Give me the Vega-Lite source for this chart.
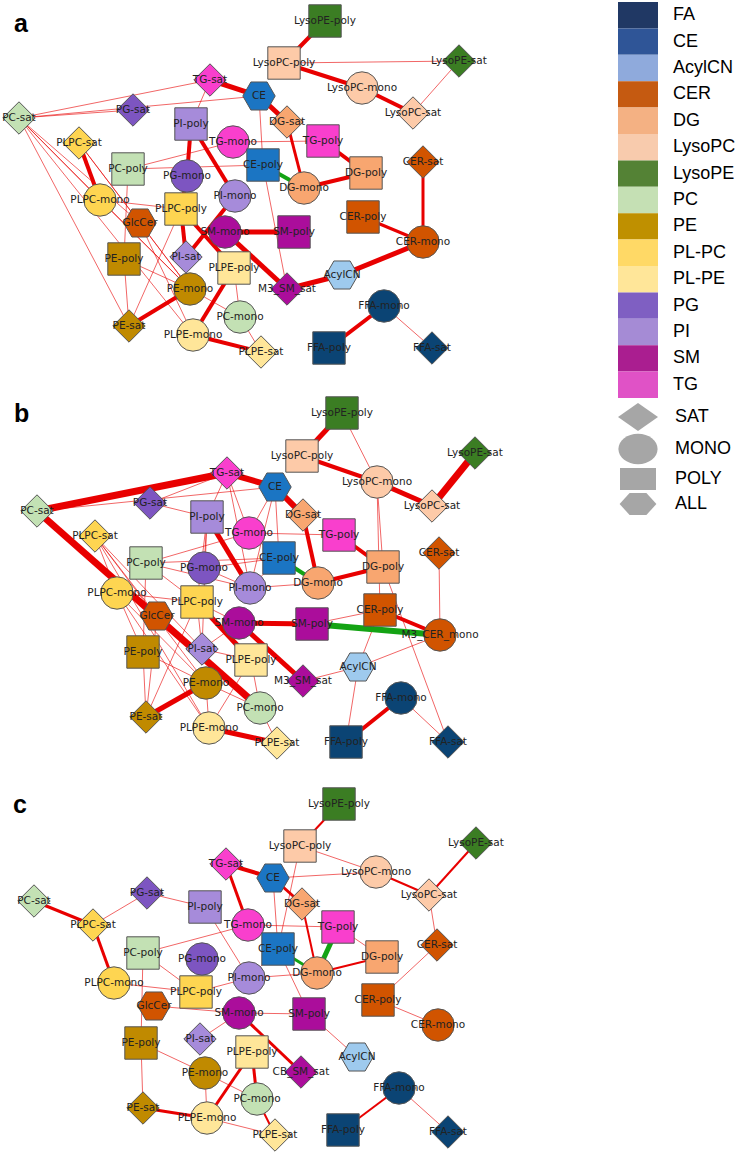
{
"$schema": "https://vega.github.io/schema/vega-lite/v6.json",
"width": 749, "height": 1154, "padding": 0, "autosize": {"type": "none"},
"background": "white",
"config": {"view": {"stroke": null}},
"datasets": {
"nodes": [
{"id":"a|TG-sat","label":"TG-sat","cls":"TG","type":"SAT","x":210,"y":80},
{"id":"a|PG-sat","label":"PG-sat","cls":"PG","type":"SAT","x":133,"y":110},
{"id":"a|PC-sat","label":"PC-sat","cls":"PC","type":"SAT","x":19,"y":118},
{"id":"a|PI-poly","label":"PI-poly","cls":"PI","type":"POLY","x":191,"y":124},
{"id":"a|TG-mono","label":"TG-mono","cls":"TG","type":"MONO","x":233,"y":142},
{"id":"a|PLPC-sat","label":"PLPC-sat","cls":"PL-PC","type":"SAT","x":79,"y":143},
{"id":"a|PC-poly","label":"PC-poly","cls":"PC","type":"POLY","x":128,"y":169},
{"id":"a|PG-mono","label":"PG-mono","cls":"PG","type":"MONO","x":187,"y":176},
{"id":"a|CE","label":"CE","cls":"CE","type":"ALL","x":259,"y":96},
{"id":"a|LysoPE-poly","label":"LysoPE-poly","cls":"LysoPE","type":"POLY","x":325,"y":21},
{"id":"a|LysoPC-poly","label":"LysoPC-poly","cls":"LysoPC","type":"POLY","x":284,"y":63},
{"id":"a|LysoPE-sat","label":"LysoPE-sat","cls":"LysoPE","type":"SAT","x":459,"y":61},
{"id":"a|LysoPC-mono","label":"LysoPC-mono","cls":"LysoPC","type":"MONO","x":362,"y":88},
{"id":"a|LysoPC-sat","label":"LysoPC-sat","cls":"LysoPC","type":"SAT","x":413,"y":113},
{"id":"a|DG-sat","label":"DG-sat","cls":"DG","type":"SAT","x":287,"y":122},
{"id":"a|TG-poly","label":"TG-poly","cls":"TG","type":"POLY","x":323,"y":141},
{"id":"a|CE-poly","label":"CE-poly","cls":"CE","type":"POLY","x":263,"y":165},
{"id":"a|DG-poly","label":"DG-poly","cls":"DG","type":"POLY","x":366,"y":173},
{"id":"a|CER-sat","label":"CER-sat","cls":"CER","type":"SAT","x":423,"y":162},
{"id":"a|DG-mono","label":"DG-mono","cls":"DG","type":"MONO","x":304,"y":188},
{"id":"a|PLPC-mono","label":"PLPC-mono","cls":"PL-PC","type":"MONO","x":100,"y":200},
{"id":"a|PI-mono","label":"PI-mono","cls":"PI","type":"MONO","x":235,"y":196},
{"id":"a|PLPC-poly","label":"PLPC-poly","cls":"PL-PC","type":"POLY","x":181,"y":209},
{"id":"a|GlcCer","label":"GlcCer","cls":"CER","type":"ALL","x":140,"y":223},
{"id":"a|SM-mono","label":"SM-mono","cls":"SM","type":"MONO","x":225,"y":232},
{"id":"a|PE-poly","label":"PE-poly","cls":"PE","type":"POLY","x":124,"y":259},
{"id":"a|PI-sat","label":"PI-sat","cls":"PI","type":"SAT","x":186,"y":257},
{"id":"a|PLPE-poly","label":"PLPE-poly","cls":"PL-PE","type":"POLY","x":234,"y":268},
{"id":"a|PE-mono","label":"PE-mono","cls":"PE","type":"MONO","x":190,"y":289},
{"id":"a|PE-sat","label":"PE-sat","cls":"PE","type":"SAT","x":129,"y":326},
{"id":"a|PLPE-mono","label":"PLPE-mono","cls":"PL-PE","type":"MONO","x":193,"y":335},
{"id":"a|PC-mono","label":"PC-mono","cls":"PC","type":"MONO","x":240,"y":317},
{"id":"a|PLPE-sat","label":"PLPE-sat","cls":"PL-PE","type":"SAT","x":261,"y":352},
{"id":"a|CER-poly","label":"CER-poly","cls":"CER","type":"POLY","x":363,"y":217},
{"id":"a|SM-poly","label":"SM-poly","cls":"SM","type":"POLY","x":294,"y":232},
{"id":"a|CER-mono","label":"CER-mono","cls":"CER","type":"MONO","x":423,"y":242},
{"id":"a|AcylCN","label":"AcylCN","cls":"AcylCN","type":"ALL","x":342,"y":275},
{"id":"a|M3_SM_sat","label":"M3_SM_sat","cls":"SM","type":"SAT","x":287,"y":289},
{"id":"a|FFA-mono","label":"FFA-mono","cls":"FA","type":"MONO","x":384,"y":306},
{"id":"a|FFA-poly","label":"FFA-poly","cls":"FA","type":"POLY","x":329,"y":348},
{"id":"a|FFA-sat","label":"FFA-sat","cls":"FA","type":"SAT","x":432,"y":348},
{"id":"b|TG-sat","label":"TG-sat","cls":"TG","type":"SAT","x":227,"y":473},
{"id":"b|PG-sat","label":"PG-sat","cls":"PG","type":"SAT","x":150,"y":503},
{"id":"b|PC-sat","label":"PC-sat","cls":"PC","type":"SAT","x":37,"y":511},
{"id":"b|PI-poly","label":"PI-poly","cls":"PI","type":"POLY","x":207,"y":517},
{"id":"b|TG-mono","label":"TG-mono","cls":"TG","type":"MONO","x":249,"y":533},
{"id":"b|PLPC-sat","label":"PLPC-sat","cls":"PL-PC","type":"SAT","x":95,"y":536},
{"id":"b|PC-poly","label":"PC-poly","cls":"PC","type":"POLY","x":146,"y":563},
{"id":"b|PG-mono","label":"PG-mono","cls":"PG","type":"MONO","x":204,"y":568},
{"id":"b|LysoPE-poly","label":"LysoPE-poly","cls":"LysoPE","type":"POLY","x":342,"y":413},
{"id":"b|LysoPC-poly","label":"LysoPC-poly","cls":"LysoPC","type":"POLY","x":302,"y":456},
{"id":"b|LysoPE-sat","label":"LysoPE-sat","cls":"LysoPE","type":"SAT","x":475,"y":453},
{"id":"b|LysoPC-mono","label":"LysoPC-mono","cls":"LysoPC","type":"MONO","x":377,"y":482},
{"id":"b|CE","label":"CE","cls":"CE","type":"ALL","x":275,"y":487},
{"id":"b|LysoPC-sat","label":"LysoPC-sat","cls":"LysoPC","type":"SAT","x":432,"y":506},
{"id":"b|DG-sat","label":"DG-sat","cls":"DG","type":"SAT","x":303,"y":515},
{"id":"b|TG-poly","label":"TG-poly","cls":"TG","type":"POLY","x":339,"y":535},
{"id":"b|CE-poly","label":"CE-poly","cls":"CE","type":"POLY","x":279,"y":558},
{"id":"b|DG-poly","label":"DG-poly","cls":"DG","type":"POLY","x":383,"y":567},
{"id":"b|CER-sat","label":"CER-sat","cls":"CER","type":"SAT","x":439,"y":553},
{"id":"b|PLPC-mono","label":"PLPC-mono","cls":"PL-PC","type":"MONO","x":117,"y":593},
{"id":"b|PLPC-poly","label":"PLPC-poly","cls":"PL-PC","type":"POLY","x":197,"y":602},
{"id":"b|PI-mono","label":"PI-mono","cls":"PI","type":"MONO","x":250,"y":588},
{"id":"b|GlcCer","label":"GlcCer","cls":"CER","type":"ALL","x":157,"y":616},
{"id":"b|SM-mono","label":"SM-mono","cls":"SM","type":"MONO","x":239,"y":623},
{"id":"b|PE-poly","label":"PE-poly","cls":"PE","type":"POLY","x":143,"y":652},
{"id":"b|PI-sat","label":"PI-sat","cls":"PI","type":"SAT","x":202,"y":649},
{"id":"b|PLPE-poly","label":"PLPE-poly","cls":"PL-PE","type":"POLY","x":251,"y":660},
{"id":"b|PE-mono","label":"PE-mono","cls":"PE","type":"MONO","x":206,"y":683},
{"id":"b|PE-sat","label":"PE-sat","cls":"PE","type":"SAT","x":146,"y":717},
{"id":"b|PLPE-mono","label":"PLPE-mono","cls":"PL-PE","type":"MONO","x":209,"y":728},
{"id":"b|DG-mono","label":"DG-mono","cls":"DG","type":"MONO","x":318,"y":583},
{"id":"b|CER-poly","label":"CER-poly","cls":"CER","type":"POLY","x":380,"y":610},
{"id":"b|SM-poly","label":"SM-poly","cls":"SM","type":"POLY","x":312,"y":624},
{"id":"b|M3_CER_mono","label":"M3_CER_mono","cls":"CER","type":"MONO","x":440,"y":635},
{"id":"b|AcylCN","label":"AcylCN","cls":"AcylCN","type":"ALL","x":358,"y":667},
{"id":"b|M3_SM_sat","label":"M3_SM_sat","cls":"SM","type":"SAT","x":303,"y":681},
{"id":"b|FFA-mono","label":"FFA-mono","cls":"FA","type":"MONO","x":401,"y":698},
{"id":"b|PC-mono","label":"PC-mono","cls":"PC","type":"MONO","x":260,"y":708},
{"id":"b|FFA-poly","label":"FFA-poly","cls":"FA","type":"POLY","x":346,"y":742},
{"id":"b|FFA-sat","label":"FFA-sat","cls":"FA","type":"SAT","x":448,"y":742},
{"id":"b|PLPE-sat","label":"PLPE-sat","cls":"PL-PE","type":"SAT","x":277,"y":743},
{"id":"c|TG-sat","label":"TG-sat","cls":"TG","type":"SAT","x":226,"y":864},
{"id":"c|PG-sat","label":"PG-sat","cls":"PG","type":"SAT","x":147,"y":893},
{"id":"c|PC-sat","label":"PC-sat","cls":"PC","type":"SAT","x":34,"y":901},
{"id":"c|PI-poly","label":"PI-poly","cls":"PI","type":"POLY","x":205,"y":907},
{"id":"c|PLPC-sat","label":"PLPC-sat","cls":"PL-PC","type":"SAT","x":93,"y":925},
{"id":"c|TG-mono","label":"TG-mono","cls":"TG","type":"MONO","x":248,"y":925},
{"id":"c|PC-poly","label":"PC-poly","cls":"PC","type":"POLY","x":143,"y":953},
{"id":"c|PG-mono","label":"PG-mono","cls":"PG","type":"MONO","x":202,"y":959},
{"id":"c|PLPC-mono","label":"PLPC-mono","cls":"PL-PC","type":"MONO","x":114,"y":983},
{"id":"c|PI-mono","label":"PI-mono","cls":"PI","type":"MONO","x":249,"y":978},
{"id":"c|PLPC-poly","label":"PLPC-poly","cls":"PL-PC","type":"POLY","x":196,"y":992},
{"id":"c|GlcCer","label":"GlcCer","cls":"CER","type":"ALL","x":154,"y":1006},
{"id":"c|SM-mono","label":"SM-mono","cls":"SM","type":"MONO","x":239,"y":1013},
{"id":"c|PI-sat","label":"PI-sat","cls":"PI","type":"SAT","x":200,"y":1039},
{"id":"c|PE-poly","label":"PE-poly","cls":"PE","type":"POLY","x":141,"y":1043},
{"id":"c|PLPE-poly","label":"PLPE-poly","cls":"PL-PE","type":"POLY","x":252,"y":1052},
{"id":"c|PE-mono","label":"PE-mono","cls":"PE","type":"MONO","x":205,"y":1073},
{"id":"c|PC-mono","label":"PC-mono","cls":"PC","type":"MONO","x":257,"y":1099},
{"id":"c|PE-sat","label":"PE-sat","cls":"PE","type":"SAT","x":143,"y":1108},
{"id":"c|PLPE-mono","label":"PLPE-mono","cls":"PL-PE","type":"MONO","x":207,"y":1118},
{"id":"c|LysoPE-poly","label":"LysoPE-poly","cls":"LysoPE","type":"POLY","x":339,"y":804},
{"id":"c|LysoPC-poly","label":"LysoPC-poly","cls":"LysoPC","type":"POLY","x":300,"y":846},
{"id":"c|LysoPE-sat","label":"LysoPE-sat","cls":"LysoPE","type":"SAT","x":476,"y":843},
{"id":"c|CE","label":"CE","cls":"CE","type":"ALL","x":273,"y":878},
{"id":"c|LysoPC-mono","label":"LysoPC-mono","cls":"LysoPC","type":"MONO","x":376,"y":872},
{"id":"c|LysoPC-sat","label":"LysoPC-sat","cls":"LysoPC","type":"SAT","x":429,"y":895},
{"id":"c|DG-sat","label":"DG-sat","cls":"DG","type":"SAT","x":302,"y":904},
{"id":"c|TG-poly","label":"TG-poly","cls":"TG","type":"POLY","x":338,"y":927},
{"id":"c|CER-sat","label":"CER-sat","cls":"CER","type":"SAT","x":437,"y":945},
{"id":"c|CE-poly","label":"CE-poly","cls":"CE","type":"POLY","x":278,"y":949},
{"id":"c|DG-poly","label":"DG-poly","cls":"DG","type":"POLY","x":382,"y":957},
{"id":"c|DG-mono","label":"DG-mono","cls":"DG","type":"MONO","x":317,"y":973},
{"id":"c|CER-poly","label":"CER-poly","cls":"CER","type":"POLY","x":378,"y":1000},
{"id":"c|SM-poly","label":"SM-poly","cls":"SM","type":"POLY","x":309,"y":1014},
{"id":"c|CER-mono","label":"CER-mono","cls":"CER","type":"MONO","x":438,"y":1025},
{"id":"c|AcylCN","label":"AcylCN","cls":"AcylCN","type":"ALL","x":357,"y":1057},
{"id":"c|CB_SM_sat","label":"CB_SM_sat","cls":"SM","type":"SAT","x":301,"y":1072},
{"id":"c|FFA-mono","label":"FFA-mono","cls":"FA","type":"MONO","x":399,"y":1088},
{"id":"c|FFA-poly","label":"FFA-poly","cls":"FA","type":"POLY","x":343,"y":1130},
{"id":"c|PLPE-sat","label":"PLPE-sat","cls":"PL-PE","type":"SAT","x":275,"y":1135},
{"id":"c|FFA-sat","label":"FFA-sat","cls":"FA","type":"SAT","x":448,"y":1132}
],
"edges": [
{"s":"a|PC-sat","t":"a|TG-sat","w":1,"sign":"pos"},
{"s":"a|PC-sat","t":"a|CE","w":1,"sign":"pos"},
{"s":"a|PC-sat","t":"a|PG-sat","w":1,"sign":"pos"},
{"s":"a|PC-sat","t":"a|PE-sat","w":1,"sign":"pos"},
{"s":"a|PC-sat","t":"a|PLPC-mono","w":1,"sign":"pos"},
{"s":"a|PC-sat","t":"a|GlcCer","w":1,"sign":"pos"},
{"s":"a|PC-sat","t":"a|PE-mono","w":1,"sign":"pos"},
{"s":"a|PC-sat","t":"a|PLPE-mono","w":1,"sign":"pos"},
{"s":"a|TG-sat","t":"a|PI-poly","w":1,"sign":"pos"},
{"s":"a|LysoPC-poly","t":"a|LysoPE-sat","w":1,"sign":"pos"},
{"s":"a|LysoPE-sat","t":"a|LysoPC-sat","w":1,"sign":"pos"},
{"s":"a|CE","t":"a|CE-poly","w":1,"sign":"pos"},
{"s":"a|TG-mono","t":"a|TG-poly","w":1,"sign":"pos"},
{"s":"a|PC-poly","t":"a|TG-mono","w":1,"sign":"pos"},
{"s":"a|PC-poly","t":"a|CE-poly","w":1,"sign":"pos"},
{"s":"a|PLPC-sat","t":"a|GlcCer","w":1,"sign":"pos"},
{"s":"a|PLPC-sat","t":"a|PE-mono","w":1,"sign":"pos"},
{"s":"a|PLPC-mono","t":"a|PLPC-poly","w":1,"sign":"pos"},
{"s":"a|PLPC-mono","t":"a|PE-mono","w":1,"sign":"pos"},
{"s":"a|PC-poly","t":"a|PE-poly","w":1,"sign":"pos"},
{"s":"a|PE-poly","t":"a|PE-sat","w":1,"sign":"pos"},
{"s":"a|GlcCer","t":"a|PE-mono","w":1,"sign":"pos"},
{"s":"a|GlcCer","t":"a|PLPE-mono","w":1,"sign":"pos"},
{"s":"a|PE-poly","t":"a|PE-mono","w":1,"sign":"pos"},
{"s":"a|PE-sat","t":"a|PLPC-poly","w":1,"sign":"pos"},
{"s":"a|PE-mono","t":"a|PC-mono","w":1,"sign":"pos"},
{"s":"a|PLPE-poly","t":"a|PC-mono","w":1,"sign":"pos"},
{"s":"a|PC-mono","t":"a|PLPE-sat","w":1,"sign":"pos"},
{"s":"a|CE-poly","t":"a|M3_SM_sat","w":1,"sign":"pos"},
{"s":"a|FFA-mono","t":"a|FFA-sat","w":1,"sign":"pos"},
{"s":"a|LysoPE-poly","t":"a|LysoPC-poly","w":4,"sign":"pos"},
{"s":"a|LysoPC-poly","t":"a|LysoPC-mono","w":4,"sign":"pos"},
{"s":"a|LysoPC-mono","t":"a|LysoPC-sat","w":4,"sign":"pos"},
{"s":"a|TG-sat","t":"a|CE","w":5,"sign":"pos"},
{"s":"a|CE","t":"a|DG-sat","w":5,"sign":"pos"},
{"s":"a|DG-sat","t":"a|DG-mono","w":3,"sign":"pos"},
{"s":"a|TG-poly","t":"a|DG-poly","w":4,"sign":"pos"},
{"s":"a|CE-poly","t":"a|DG-mono","w":4,"sign":"neg"},
{"s":"a|DG-mono","t":"a|DG-poly","w":4,"sign":"pos"},
{"s":"a|CER-sat","t":"a|CER-mono","w":3,"sign":"pos"},
{"s":"a|CER-poly","t":"a|CER-mono","w":3,"sign":"pos"},
{"s":"a|CER-mono","t":"a|AcylCN","w":5,"sign":"pos"},
{"s":"a|AcylCN","t":"a|M3_SM_sat","w":5,"sign":"pos"},
{"s":"a|SM-mono","t":"a|M3_SM_sat","w":5,"sign":"pos"},
{"s":"a|SM-mono","t":"a|SM-poly","w":5,"sign":"pos"},
{"s":"a|FFA-mono","t":"a|FFA-poly","w":4,"sign":"pos"},
{"s":"a|PI-poly","t":"a|PG-mono","w":4,"sign":"pos"},
{"s":"a|PG-mono","t":"a|PLPC-poly","w":4,"sign":"pos"},
{"s":"a|PLPC-poly","t":"a|PI-sat","w":4,"sign":"pos"},
{"s":"a|PI-poly","t":"a|PI-mono","w":4,"sign":"pos"},
{"s":"a|PLPC-sat","t":"a|PLPC-mono","w":4,"sign":"pos"},
{"s":"a|PE-sat","t":"a|PE-mono","w":4,"sign":"pos"},
{"s":"a|PLPE-poly","t":"a|PLPE-mono","w":4,"sign":"pos"},
{"s":"a|PLPE-mono","t":"a|PLPE-sat","w":4,"sign":"pos"},
{"s":"a|PI-sat","t":"a|PI-mono","w":4,"sign":"pos"},
{"s":"a|PLPC-poly","t":"a|PLPE-poly","w":4,"sign":"pos"},
{"s":"b|PG-sat","t":"b|TG-sat","w":1,"sign":"pos"},
{"s":"b|PG-sat","t":"b|PI-poly","w":1,"sign":"pos"},
{"s":"b|PC-sat","t":"b|CE","w":1,"sign":"pos"},
{"s":"b|TG-sat","t":"b|PI-poly","w":1,"sign":"pos"},
{"s":"b|TG-sat","t":"b|TG-mono","w":1,"sign":"pos"},
{"s":"b|TG-sat","t":"b|PI-mono","w":1,"sign":"pos"},
{"s":"b|PLPC-sat","t":"b|PLPC-mono","w":1,"sign":"pos"},
{"s":"b|PLPC-sat","t":"b|GlcCer","w":1,"sign":"pos"},
{"s":"b|PLPC-sat","t":"b|PI-sat","w":1,"sign":"pos"},
{"s":"b|PLPC-sat","t":"b|PE-mono","w":1,"sign":"pos"},
{"s":"b|PLPC-sat","t":"b|PLPE-mono","w":1,"sign":"pos"},
{"s":"b|PC-poly","t":"b|TG-mono","w":1,"sign":"pos"},
{"s":"b|PC-poly","t":"b|CE-poly","w":1,"sign":"pos"},
{"s":"b|PC-poly","t":"b|PLPC-poly","w":1,"sign":"pos"},
{"s":"b|PC-poly","t":"b|PE-poly","w":1,"sign":"pos"},
{"s":"b|PC-poly","t":"b|PI-mono","w":1,"sign":"pos"},
{"s":"b|PI-poly","t":"b|PLPC-poly","w":1,"sign":"pos"},
{"s":"b|PI-poly","t":"b|PI-sat","w":1,"sign":"pos"},
{"s":"b|PI-poly","t":"b|PG-mono","w":1,"sign":"pos"},
{"s":"b|PLPC-mono","t":"b|PLPC-poly","w":1,"sign":"pos"},
{"s":"b|PLPC-mono","t":"b|PE-poly","w":1,"sign":"pos"},
{"s":"b|PLPC-mono","t":"b|PE-mono","w":1,"sign":"pos"},
{"s":"b|PLPC-mono","t":"b|PLPE-mono","w":1,"sign":"pos"},
{"s":"b|GlcCer","t":"b|PE-sat","w":1,"sign":"pos"},
{"s":"b|PE-poly","t":"b|PE-sat","w":1,"sign":"pos"},
{"s":"b|PE-poly","t":"b|PE-mono","w":1,"sign":"pos"},
{"s":"b|PLPC-poly","t":"b|PE-sat","w":1,"sign":"pos"},
{"s":"b|PLPC-poly","t":"b|PI-sat","w":1,"sign":"pos"},
{"s":"b|PLPC-poly","t":"b|SM-mono","w":1,"sign":"pos"},
{"s":"b|PI-sat","t":"b|SM-mono","w":1,"sign":"pos"},
{"s":"b|PI-sat","t":"b|PLPE-poly","w":1,"sign":"pos"},
{"s":"b|PE-mono","t":"b|PC-mono","w":1,"sign":"pos"},
{"s":"b|PE-mono","t":"b|PLPE-mono","w":1,"sign":"pos"},
{"s":"b|PLPE-poly","t":"b|PLPE-mono","w":1,"sign":"pos"},
{"s":"b|PLPE-poly","t":"b|PC-mono","w":1,"sign":"pos"},
{"s":"b|PC-mono","t":"b|PLPE-sat","w":1,"sign":"pos"},
{"s":"b|LysoPE-poly","t":"b|LysoPC-mono","w":1,"sign":"pos"},
{"s":"b|LysoPC-mono","t":"b|DG-poly","w":1,"sign":"pos"},
{"s":"b|LysoPC-mono","t":"b|CER-poly","w":1,"sign":"pos"},
{"s":"b|CE","t":"b|TG-mono","w":1,"sign":"pos"},
{"s":"b|CE","t":"b|CE-poly","w":1,"sign":"pos"},
{"s":"b|CE","t":"b|PI-mono","w":1,"sign":"pos"},
{"s":"b|TG-mono","t":"b|TG-poly","w":1,"sign":"pos"},
{"s":"b|TG-mono","t":"b|CE-poly","w":1,"sign":"pos"},
{"s":"b|CE-poly","t":"b|PI-mono","w":1,"sign":"pos"},
{"s":"b|PI-mono","t":"b|DG-mono","w":1,"sign":"pos"},
{"s":"b|PG-mono","t":"b|PI-mono","w":1,"sign":"pos"},
{"s":"b|PG-mono","t":"b|CE-poly","w":1,"sign":"pos"},
{"s":"b|CER-sat","t":"b|M3_CER_mono","w":1,"sign":"pos"},
{"s":"b|SM-poly","t":"b|CER-poly","w":1,"sign":"pos"},
{"s":"b|CER-poly","t":"b|AcylCN","w":1,"sign":"pos"},
{"s":"b|DG-poly","t":"b|FFA-sat","w":1,"sign":"pos"},
{"s":"b|AcylCN","t":"b|M3_CER_mono","w":1,"sign":"pos"},
{"s":"b|AcylCN","t":"b|M3_SM_sat","w":1,"sign":"pos"},
{"s":"b|AcylCN","t":"b|FFA-poly","w":1,"sign":"pos"},
{"s":"b|FFA-mono","t":"b|FFA-sat","w":1,"sign":"pos"},
{"s":"b|PC-sat","t":"b|TG-sat","w":7,"sign":"pos"},
{"s":"b|PC-sat","t":"b|PC-mono","w":7,"sign":"pos"},
{"s":"b|TG-sat","t":"b|CE","w":6,"sign":"pos"},
{"s":"b|CE","t":"b|DG-sat","w":6,"sign":"pos"},
{"s":"b|PI-poly","t":"b|PI-mono","w":5,"sign":"pos"},
{"s":"b|PLPC-poly","t":"b|PLPE-poly","w":5,"sign":"pos"},
{"s":"b|DG-sat","t":"b|DG-mono","w":4,"sign":"pos"},
{"s":"b|TG-poly","t":"b|DG-poly","w":4,"sign":"pos"},
{"s":"b|DG-mono","t":"b|DG-poly","w":4,"sign":"pos"},
{"s":"b|CE-poly","t":"b|DG-mono","w":4,"sign":"neg"},
{"s":"b|LysoPE-poly","t":"b|LysoPC-poly","w":5,"sign":"pos"},
{"s":"b|LysoPC-poly","t":"b|LysoPC-mono","w":4,"sign":"pos"},
{"s":"b|LysoPC-mono","t":"b|LysoPC-sat","w":5,"sign":"pos"},
{"s":"b|LysoPC-sat","t":"b|LysoPE-sat","w":7,"sign":"pos"},
{"s":"b|SM-mono","t":"b|SM-poly","w":5,"sign":"pos"},
{"s":"b|SM-poly","t":"b|M3_CER_mono","w":6,"sign":"neg"},
{"s":"b|CER-poly","t":"b|M3_CER_mono","w":4,"sign":"pos"},
{"s":"b|SM-mono","t":"b|M3_SM_sat","w":5,"sign":"pos"},
{"s":"b|FFA-mono","t":"b|FFA-poly","w":4,"sign":"pos"},
{"s":"b|PE-sat","t":"b|PE-mono","w":5,"sign":"pos"},
{"s":"b|PLPE-mono","t":"b|PLPE-sat","w":5,"sign":"pos"},
{"s":"c|PLPC-sat","t":"c|PG-sat","w":1,"sign":"pos"},
{"s":"c|PG-sat","t":"c|PI-poly","w":1,"sign":"pos"},
{"s":"c|PC-poly","t":"c|TG-mono","w":1,"sign":"pos"},
{"s":"c|PC-poly","t":"c|PLPC-poly","w":1,"sign":"pos"},
{"s":"c|PC-poly","t":"c|PE-poly","w":1,"sign":"pos"},
{"s":"c|PLPC-mono","t":"c|PLPC-poly","w":1,"sign":"pos"},
{"s":"c|PI-poly","t":"c|PI-mono","w":1,"sign":"pos"},
{"s":"c|PLPC-poly","t":"c|PI-mono","w":1,"sign":"pos"},
{"s":"c|GlcCer","t":"c|SM-mono","w":1,"sign":"pos"},
{"s":"c|SM-mono","t":"c|PI-sat","w":1,"sign":"pos"},
{"s":"c|PE-poly","t":"c|PE-mono","w":1,"sign":"pos"},
{"s":"c|PE-poly","t":"c|PE-sat","w":1,"sign":"pos"},
{"s":"c|PE-mono","t":"c|PLPE-mono","w":1,"sign":"pos"},
{"s":"c|PE-mono","t":"c|PC-mono","w":1,"sign":"pos"},
{"s":"c|PLPE-mono","t":"c|PLPE-sat","w":1,"sign":"pos"},
{"s":"c|SM-mono","t":"c|SM-poly","w":1,"sign":"pos"},
{"s":"c|SM-poly","t":"c|AcylCN","w":1,"sign":"pos"},
{"s":"c|CE-poly","t":"c|SM-poly","w":1,"sign":"pos"},
{"s":"c|CE","t":"c|CE-poly","w":1,"sign":"pos"},
{"s":"c|CE","t":"c|LysoPC-mono","w":1,"sign":"pos"},
{"s":"c|LysoPC-poly","t":"c|CE-poly","w":1,"sign":"pos"},
{"s":"c|LysoPC-poly","t":"c|LysoPC-mono","w":1,"sign":"pos"},
{"s":"c|LysoPC-sat","t":"c|CER-sat","w":1,"sign":"pos"},
{"s":"c|CER-sat","t":"c|CER-poly","w":1,"sign":"pos"},
{"s":"c|CER-poly","t":"c|CER-mono","w":1,"sign":"pos"},
{"s":"c|TG-mono","t":"c|TG-poly","w":1,"sign":"pos"},
{"s":"c|TG-poly","t":"c|DG-poly","w":1,"sign":"pos"},
{"s":"c|PI-mono","t":"c|CE-poly","w":1,"sign":"pos"},
{"s":"c|PI-mono","t":"c|DG-mono","w":1,"sign":"pos"},
{"s":"c|FFA-mono","t":"c|FFA-sat","w":1,"sign":"pos"},
{"s":"c|PC-sat","t":"c|PLPC-sat","w":3,"sign":"pos"},
{"s":"c|PLPC-sat","t":"c|PLPC-mono","w":3,"sign":"pos"},
{"s":"c|TG-sat","t":"c|TG-mono","w":3,"sign":"pos"},
{"s":"c|TG-sat","t":"c|CE","w":4,"sign":"pos"},
{"s":"c|CE","t":"c|DG-sat","w":3,"sign":"pos"},
{"s":"c|PE-sat","t":"c|PLPE-mono","w":3,"sign":"pos"},
{"s":"c|PLPE-mono","t":"c|PLPE-poly","w":3,"sign":"pos"},
{"s":"c|PLPE-poly","t":"c|PC-mono","w":3,"sign":"pos"},
{"s":"c|PC-mono","t":"c|PLPE-sat","w":2,"sign":"pos"},
{"s":"c|SM-mono","t":"c|CB_SM_sat","w":3,"sign":"pos"},
{"s":"c|LysoPE-poly","t":"c|LysoPC-poly","w":2,"sign":"pos"},
{"s":"c|LysoPC-mono","t":"c|LysoPC-sat","w":2,"sign":"pos"},
{"s":"c|LysoPC-sat","t":"c|LysoPE-sat","w":2,"sign":"pos"},
{"s":"c|DG-mono","t":"c|DG-poly","w":2,"sign":"pos"},
{"s":"c|DG-sat","t":"c|DG-mono","w":2,"sign":"pos"},
{"s":"c|TG-poly","t":"c|DG-mono","w":5,"sign":"neg"},
{"s":"c|CE-poly","t":"c|DG-mono","w":3,"sign":"neg"},
{"s":"c|FFA-mono","t":"c|FFA-poly","w":2,"sign":"pos"}
],
"letters": [{"t":"a","x":14,"y":32},{"t":"b","x":14,"y":422},{"t":"c","x":13,"y":813}],
"classes": [{"cls":"FA"}],
"types": [{"type":"SAT"}]
},
"layer": [
{
"data": {"name": "edges"},
"transform": [
{"lookup": "s", "from": {"data": {"name": "nodes"}, "key": "id", "fields": ["x", "y"]}, "as": ["sx", "sy"]},
{"lookup": "t", "from": {"data": {"name": "nodes"}, "key": "id", "fields": ["x", "y"]}, "as": ["tx", "ty"]}
],
"mark": {"type": "rule", "strokeCap": "butt"},
"encoding": {
"x": {"field": "sx", "type": "quantitative", "scale": {"domain": [0, 749], "nice": false, "zero": false}, "axis": null},
"y": {"field": "sy", "type": "quantitative", "scale": {"domain": [0, 1154], "nice": false, "zero": false, "reverse": true}, "axis": null},
"x2": {"field": "tx"},
"y2": {"field": "ty"},
"stroke": {"field": "sign", "type": "nominal", "scale": {"domain": ["pos", "neg"], "range": ["#e80000", "#14a314"]}, "legend": null},
"strokeWidth": {"field": "w", "type": "quantitative", "scale": {"domain": [0, 10], "range": [0, 10]}, "legend": null},
"opacity": {"field": "w", "type": "quantitative", "scale": {"domain": [1, 2], "range": [0.6, 1], "clamp": true}, "legend": null}
}
},
{
"data": {"name": "nodes"},
"mark": {"type": "point", "filled": true, "size": 1050, "stroke": "#555555", "strokeWidth": 1, "opacity": 1},
"encoding": {
"x": {"field": "x", "type": "quantitative"},
"y": {"field": "y", "type": "quantitative"},
"fill": {"field": "cls", "type": "nominal", "legend": null, "scale": {
"domain": ["AcylCN","CE","CER","DG","FA","LysoPC","LysoPE","PC","PE","PG","PI","PL-PC","PL-PE","SM","TG"],
"range": ["#9ecaee","#1b75c3","#d15400","#f8a670","#0b4474","#fdcaa8","#3b7d23","#c3e1b4","#c08a00","#7d55c1","#a68bda","#fed551","#ffe699","#ab0d9b","#f93fcd"]}},
"shape": {"field": "type", "type": "nominal", "legend": null, "scale": {"domain": ["SAT","MONO","POLY","ALL"], "range": ["diamond","circle","square","M-1,0L-0.5,-0.866L0.5,-0.866L1,0L0.5,0.866L-0.5,0.866Z"]}}
}
},
{
"data": {"name": "nodes"},
"mark": {"type": "text", "font": "DejaVu Sans", "fontSize": 10.5, "fill": "#222222", "align": "center", "baseline": "middle"},
"encoding": {
"x": {"field": "x", "type": "quantitative"},
"y": {"field": "y", "type": "quantitative"},
"text": {"field": "label"}
}
},
{
"data": {"name": "letters"},
"mark": {"type": "text", "font": "Liberation Sans", "fontWeight": "bold", "fontSize": 25, "align": "left", "baseline": "alphabetic", "fill": "#000000"},
"encoding": {
"x": {"field": "x", "type": "quantitative"},
"y": {"field": "y", "type": "quantitative"},
"text": {"field": "t"}
}
},
{
"data": {"name": "classes"},
"transform": [{"filter": "false"}],
"mark": {"type": "point", "filled": true, "opacity": 1},
"encoding": {
"color": {"field": "cls", "type": "nominal",
"scale": {"domain": ["FA","CE","AcylCN","CER","DG","LysoPC","LysoPE","PC","PE","PL-PC","PL-PE","PG","PI","SM","TG"],
"range": ["#203864","#2f5597","#8faadc","#c55a11","#f4b183","#f8cbad","#548235","#c5e0b4","#bf9000","#ffd966","#ffe699","#7f5fc2","#a58bd5","#aa1e90","#e052c6"]},
"legend": {"orient": "none", "legendX": 628, "legendY": 5.2, "title": null, "padding": 0,
"symbolType": "M-2,-1.32L2,-1.32L2,1.32L-2,1.32Z", "symbolSize": 400, "symbolStrokeWidth": 0, "symbolOpacity": 1,
"rowPadding": -1.6, "labelFont": "Liberation Sans", "labelFontSize": 18, "labelColor": "#000000", "labelOffset": 25, "labelLimit": 0}}
}
},
{
"data": {"name": "types"},
"transform": [{"filter": "false"}],
"mark": {"type": "point", "filled": true, "opacity": 1, "color": "#a6a6a6"},
"encoding": {
"shape": {"field": "type", "type": "nominal",
"scale": {"domain": ["SAT","MONO","POLY","ALL"],
"range": ["M-2,0L0,-1.4L2,0L0,1.4Z","M-1.96,0A1.96,1.52 0 1 0 1.96,0A1.96,1.52 0 1 0 -1.96,0Z","M-1.8,-1.1L1.8,-1.1L1.8,1.1L-1.8,1.1Z","M-1.84,0L-0.84,-1.1L0.84,-1.1L1.84,0L0.84,1.1L-0.84,1.1Z"]},
"legend": {"orient": "none", "legendX": 627, "legendY": 406, "title": null, "padding": 0,
"symbolSize": 400, "symbolStrokeWidth": 1.5, "symbolFillColor": "#a6a6a6", "symbolStrokeColor": "#7f7f7f", "symbolOpacity": 1,
"rowPadding": -4, "labelFont": "Liberation Sans", "labelFontSize": 18, "labelColor": "#000000", "labelOffset": 26, "labelLimit": 0,
"encode": {"symbols": {"update": {"fill": {"value": "#a6a6a6"}, "stroke": {"value": "#7f7f7f"}, "strokeWidth": {"value": 1.5}, "opacity": {"value": 1}}}}}
}
}
}
],
"resolve": {"scale": {"shape": "independent"}}
}
